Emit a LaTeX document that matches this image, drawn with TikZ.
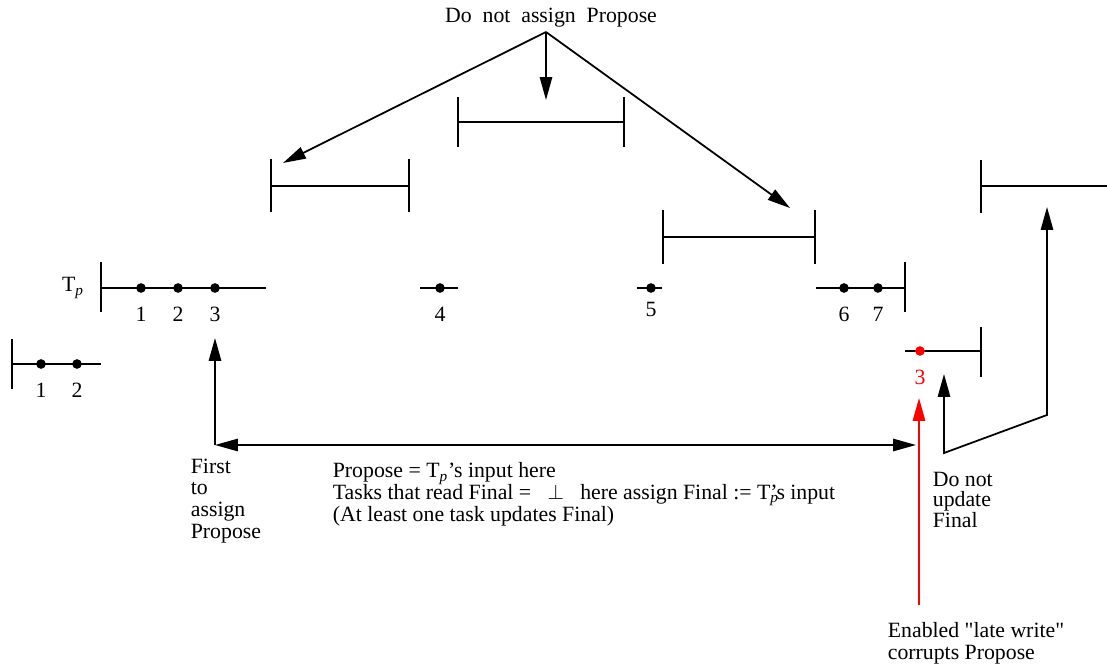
\documentclass[tikz,border=0pt]{standalone}
\usepackage{fontspec}
\setmainfont{Liberation Serif}
\usepackage{tikz}
\usetikzlibrary{arrows.meta,positioning}
\definecolor{cLate}{RGB}{255,0,0}

\begin{document}
\begin{tikzpicture}[
  x=0.02cm, y=-0.02cm,
  font=\fontsize{12.4}{12.3}\selectfont,
  line width=1pt,
  dot/.style={circle, fill, inner sep=0pt, minimum size=5.5pt},
  num/.style={inner sep=0pt},
  txt/.style={align=left, anchor=north west, inner sep=0pt},
  ar/.style={-{Triangle[length=13pt,width=7pt]}},
  dar/.style={{Triangle[length=13pt,width=7pt]}-{Triangle[length=13pt,width=7pt]}}]
\useasboundingbox (0,0) rectangle (1107,669);

% intervals with no events
\draw (271,159) -- (271,212) (271,186) -- (409,186) (409,159) -- (409,212);
\draw (458,97) -- (458,147) (458,122) -- (624,122) (624,97) -- (624,147);
\draw (663,210) -- (663,264) (663,237) -- (815,237) (815,210) -- (815,264);
\draw (981,160) -- (981,213) (981,186) -- (1107,186);

% T_p
\node (tp) at (73,288) {T\textsubscript{\textit{p}}};
\draw (101,262) -- (101,312) (101,288) -- (266,288);
\node[dot] (p1) at (141,288) {};
\node[dot] (p2) at (178,288) {};
\node[dot] (p3) at (215,288) {};
\node[num, below=7pt of p1] {1};
\node[num, below=7pt of p2] {2};
\node[num, below=7pt of p3] {3};
\draw (420,288) -- (458,288);
\node[dot] (p4) at (440,288) {};
\node[num, below=7pt of p4] {4};
\draw (637,288) -- (662,288);
\node[dot] (p5) at (651,288) {};
\node[num, below=4.5pt of p5] {5};
\draw (816,288) -- (905,288) (905,262) -- (905,312);
\node[dot] (p6) at (844,288) {};
\node[dot] (p7) at (878,288) {};
\node[num, below=7pt of p6] {6};
\node[num, below=7pt of p7] {7};

% earlier task
\draw (12,339) -- (12,389) (12,364) -- (101,364);
\node[dot] (q1) at (41,364) {};
\node[dot] (q2) at (77,364) {};
\node[num, below=7pt of q1] {1};
\node[num, below=7pt of q2] {2};

% late write
\draw (905,351) -- (981,351) (981,327) -- (981,377);
\node[dot, cLate] (r3) at (920,351) {};
\node[num, cLate, below=7pt of r3] (r3n) {3};

% top
\node[anchor=base] (top) at (551,23) {Do \ not \ assign \ Propose};
\coordinate (fork) at (546,32);
\coordinate (ta) at (283,163);
\coordinate (tb) at (546,100);
\coordinate (tc) at (790,208);
\draw[ar] (fork) -- (ta);
\draw[ar] (fork) -- (tb);
\draw[ar] (fork) -- (tc);

% bottom
\coordinate (first) at (215,445);
\coordinate (last) at (916,445);
\coordinate (up3) at (215,338);
\draw[ar] (first) -- (up3);
\draw[dar] (first) -- (last);
\coordinate (lw) at (919,605);
\coordinate (lwtip) at (919,398);
\draw[ar, cLate] (lw) -- (lwtip);
\coordinate (nu1) at (944,374);
\coordinate (nu2) at (944,453);
\coordinate (nu3) at (1047,415);
\coordinate (nu4) at (1047,207);
\draw[dar] (nu1) -- (nu2) -- (nu3) -- (nu4);

\node[txt] (firstlbl) at (190,458) {First\\to\\assign\\Propose};
\node[txt, font={\fontsize{12.4}{12.4}\selectfont\lineskiplimit=-20pt}] (mid) at (332,462) {Propose = T\textsubscript{\textit{p}}'s input here\\
  Tasks that read Final =\hspace{0.75em}$\bot$\hspace{0.75em}here assign Final := T\rlap{\textsubscript{\textit{p}}}'s input\\
  (At least one task updates Final)};
\node[txt, font=\fontsize{12.4}{11.8}\selectfont] (nolbl) at (932,471) {Do not\\update\\Final};
\node[txt] (lwlbl) at (887,622) {Enabled \textquotedbl late write\textquotedbl\\corrupts Propose};
\end{tikzpicture}
\end{document}
